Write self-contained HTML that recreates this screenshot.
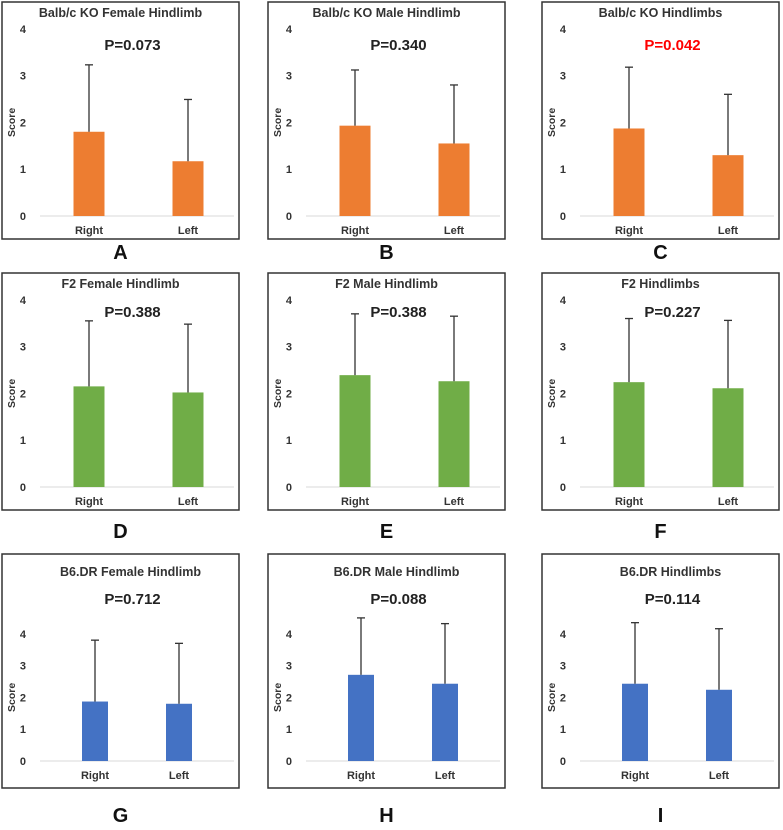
<!DOCTYPE html>
<html><head><meta charset="utf-8"><style>
body{margin:0;background:#fff;width:783px;height:825px;overflow:hidden}
svg text{font-family:"Liberation Sans",Arial,sans-serif;font-weight:bold}
</style></head><body>
<svg id="fig" width="783" height="825"></svg>
<script>
const panelTitles=["Balb/c KO Female Hindlimb","Balb/c KO Male Hindlimb","Balb/c KO Hindlimbs","F2 Female Hindlimb","F2 Male Hindlimb","F2 Hindlimbs","B6.DR  Female Hindlimb","B6.DR  Male Hindlimb","B6.DR  Hindlimbs"];
const pValues=["P=0.073","P=0.340","P=0.042","P=0.388","P=0.388","P=0.227","P=0.712","P=0.088","P=0.114"];
const panelLetters=["A","B","C","D","E","F","G","H","I"];
const categories=["Right","Left"];
const rightMeans=[1.80,1.93,1.87,2.15,2.39,2.24,1.87,2.71,2.43];
const leftMeans=[1.17,1.55,1.30,2.02,2.26,2.11,1.80,2.43,2.24];
const rightErrTop=[3.23,3.12,3.18,3.55,3.70,3.60,3.80,4.50,4.35];
const leftErrTop=[2.49,2.80,2.60,3.48,3.65,3.56,3.70,4.32,4.16];
const yTicks=[0,1,2,3,4];
const colors=["#ed7d31","#70ad47","#4472c4"];
const NS="http://www.w3.org/2000/svg";
const svg=document.getElementById('fig');
function mk(tag,attrs,parent,txt){const e=document.createElementNS(NS,tag);for(const k in attrs)e.setAttribute(k,attrs[k]);if(txt!==undefined)e.textContent=txt;(parent||svg).appendChild(e);return e;}
const colX=[2,268,542];
const rowY=[2,273,554];
for(let i=0;i<9;i++){
  const r=Math.floor(i/3),c=i%3;
  const bx=colX[c],by=rowY[r],bw=237,bh=r===2?234:237;
  const g=mk('g',{});
  
  
  const box=mk('rect',{x:bx,y:by,width:bw,height:bh,fill:'#fff',stroke:'#333','stroke-width':1.5},g);
  
  let zeroY,unit,titleY,pY,barW,cR,cL;
  if(r<2){zeroY=by+214;unit=46.8;titleY=by+15;pY=by+(r===0?48:44);barW=31;cR=bx+87;cL=bx+186;}
  else{zeroY=by+207;unit=31.8;titleY=by+22;pY=by+50;barW=26;cR=bx+93;cL=bx+177;}
  const yS=v=>zeroY-v*unit;
  const t=mk('text',{x:bx+bw/2+(r===2?10:0),y:titleY,'text-anchor':'middle','font-size':12.5,fill:'#333'},g,panelTitles[i]);
  
  const p=mk('text',{x:bx+bw/2+12,y:pY,'text-anchor':'middle','font-size':15,fill:i===2?'#ff0000':'#222'},g,pValues[i]);
  
  const bl=mk('line',{x1:bx+38,x2:bx+232,y1:zeroY,y2:zeroY,stroke:'#d9d9d9','stroke-width':1},g);
  
  yTicks.forEach(v=>{const tk=mk('text',{x:bx+24,y:yS(v)+4,'text-anchor':'end','font-size':11,fill:'#333'},g,String(v));
    });
  const ymid=yS(2);
  const yl=mk('text',{x:bx+13,y:ymid,'text-anchor':'middle','font-size':10.5,fill:'#333',transform:`rotate(-90 ${bx+13} ${ymid})`},g,'Score');
  
  const means=[rightMeans[i],leftMeans[i]],errs=[rightErrTop[i],leftErrTop[i]],cx=[cR,cL];
  for(let k=0;k<2;k++){
    const b=mk('rect',{x:cx[k]-barW/2,y:yS(means[k]),width:barW,height:zeroY-yS(means[k]),fill:colors[r]},g);
    
    const e=mk('line',{x1:cx[k],x2:cx[k],y1:yS(means[k]),y2:yS(errs[k]),stroke:'#333','stroke-width':1.3},g);
    
    const ec=mk('line',{x1:cx[k]-4,x2:cx[k]+4,y1:yS(errs[k]),y2:yS(errs[k]),stroke:'#333','stroke-width':1.3},g);
    
    const cl=mk('text',{x:cx[k],y:zeroY+18,'text-anchor':'middle','font-size':11,fill:'#333'},g,categories[k]);
    
  }
  const ly=r===0?259:(r===1?538:822);
  const L=mk('text',{x:bx+bw/2,y:ly,'text-anchor':'middle','font-size':20,fill:'#111'},g,panelLetters[i]);
  
}
</script>
</body></html>
